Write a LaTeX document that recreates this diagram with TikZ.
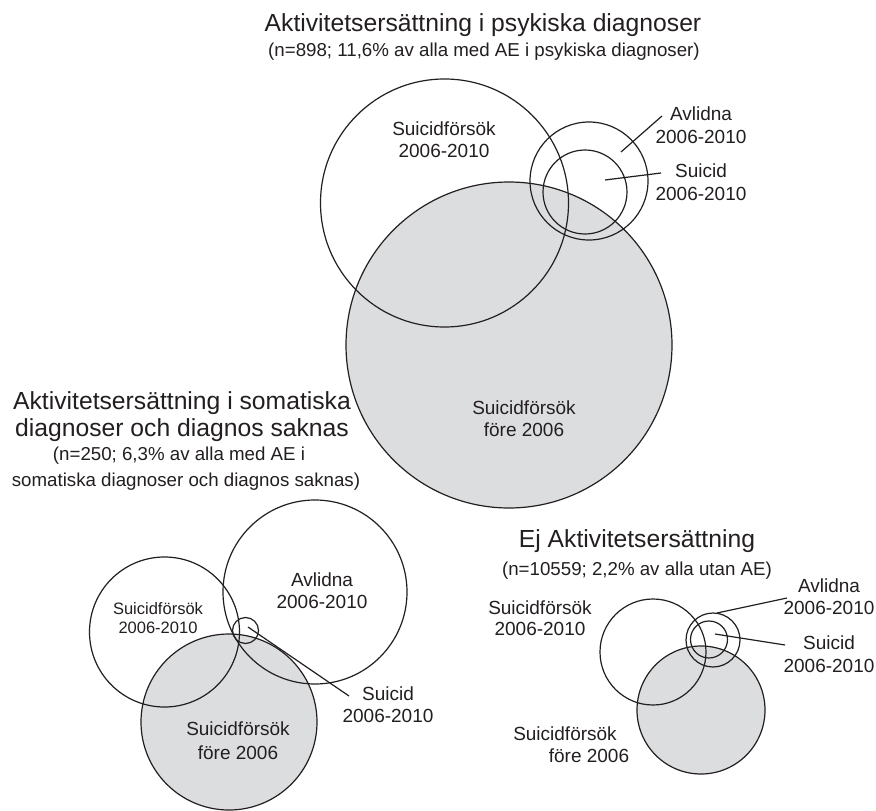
\documentclass[tikz,border=0pt]{standalone}
\usepackage{fontspec}
\setmainfont{Liberation Sans}
\definecolor{vgray}{RGB}{220,221,223}
\definecolor{ink}{RGB}{35,31,32}
\begin{document}
\begin{tikzpicture}[x=1pt,y=-1pt,
  ring/.style={circle,draw=ink,line width=1.2pt,inner sep=0pt,minimum size=#1},
  grayring/.style={ring=#1,fill=vgray},
  leader/.style={draw=ink,line width=1.2pt},
  ttl/.style={anchor=base,inner sep=0pt,text=ink,font=\fontsize{24.7}{29}\selectfont},
  sub/.style={anchor=base,inner sep=0pt,text=ink,font=\fontsize{18.7}{22}\selectfont},
  lab/.style={anchor=base,inner sep=0pt,text=ink,font=\fontsize{19}{23}\selectfont},
  slab/.style={anchor=base,inner sep=0pt,text=ink,font=\fontsize{16.5}{20}\selectfont}]
\useasboundingbox[fill=white] (0,0) rectangle (876,811);

% ---------- top diagram ----------
\node[grayring=326pt] (pG) at (509,345) {};
\node[ring=248pt] (pSF) at (444.5,203) {};
\node[ring=118pt] (pAv) at (589,181) {};
\node[ring=84pt] (pSu) at (585,192) {};

\node[ttl] (pT) at (483,31) {Aktivitetsersättning i psykiska diagnoser};
\node[sub] (pS) at (484,56) {(n=898; 11,6\% av alla med AE i psykiska diagnoser)};
\node[lab] (pSFa) at (444,135) {Suicidförsök};
\node[lab] (pSFb) at (444,157) {2006-2010};
\node[lab] (pAva) at (701,120) {Avlidna};
\node[lab] (pAvb) at (701,143) {2006-2010};
\node[lab] (pSua) at (701,177) {Suicid};
\node[lab] (pSub) at (701,200) {2006-2010};
\node[lab] (pGa) at (524,414) {Suicidförsök};
\node[lab] (pGb) at (524,436) {före 2006};

\coordinate (pAvIn) at (621,152);
\coordinate (pAvOut) at (662,116);
\coordinate (pSuIn) at (605,180);
\coordinate (pSuOut) at (661,173);
\draw[leader] (pAvIn) -- (pAvOut);
\draw[leader] (pSuIn) -- (pSuOut);

% ---------- bottom-left diagram ----------
\node[grayring=176pt] (sG) at (229,722) {};
\node[ring=150pt] (sSF) at (164.5,632) {};
\node[ring=184pt] (sAv) at (315,592) {};
\node[ring=26pt] (sSu) at (245.5,630.5) {};

\node[ttl] (sT1) at (182,409) {Aktivitetsersättning i somatiska};
\node[ttl] (sT2) at (182,436) {diagnoser och diagnos saknas};
\node[sub] (sS1) at (179,460) {(n=250; 6,3\% av alla med AE i};
\node[sub] (sS2) at (186,486) {somatiska diagnoser och diagnos saknas)};
\node[slab] (sSFa) at (158,614) {Suicidförsök};
\node[slab] (sSFb) at (158,633) {2006-2010};
\node[lab] (sAva) at (322,586) {Avlidna};
\node[lab] (sAvb) at (322,608) {2006-2010};
\node[lab] (sGa) at (238,735) {Suicidförsök};
\node[lab] (sGb) at (238,759) {före 2006};
\node[lab] (sSua) at (388,700) {Suicid};
\node[lab] (sSub) at (388,722) {2006-2010};

\coordinate (sSuIn) at (248,627);
\coordinate (sSuOut) at (349,696);
\draw[leader] (sSuIn) -- (sSuOut);

% ---------- bottom-right diagram ----------
\node[grayring=128pt] (eG) at (701,710) {};
\node[ring=106pt] (eSF) at (653,652) {};
\node[ring=54pt] (eAv) at (713,640) {};
\node[ring=37pt] (eSu) at (709,639.5) {};

\node[ttl] (eT) at (637,547) {Ej Aktivitetsersättning};
\node[sub] (eS) at (637,575) {(n=10559; 2,2\% av alla utan AE)};
\node[lab] (eAva) at (829,592) {Avlidna};
\node[lab] (eAvb) at (829,614) {2006-2010};
\node[lab] (eSua) at (829,649) {Suicid};
\node[lab] (eSub) at (829,672) {2006-2010};
\node[lab] (eSFa) at (540,614) {Suicidförsök};
\node[lab] (eSFb) at (540,635) {2006-2010};
\node[lab] (eGa) at (565,740) {Suicidförsök};
\node[lab] (eGb) at (589,762) {före 2006};

\coordinate (eAvIn) at (717,613);
\coordinate (eAvOut) at (787,598);
\coordinate (eSuIn) at (715,634);
\coordinate (eSuOut) at (785,645);
\draw[leader] (eAvIn) -- (eAvOut);
\draw[leader] (eSuIn) -- (eSuOut);
\end{tikzpicture}
\end{document}
